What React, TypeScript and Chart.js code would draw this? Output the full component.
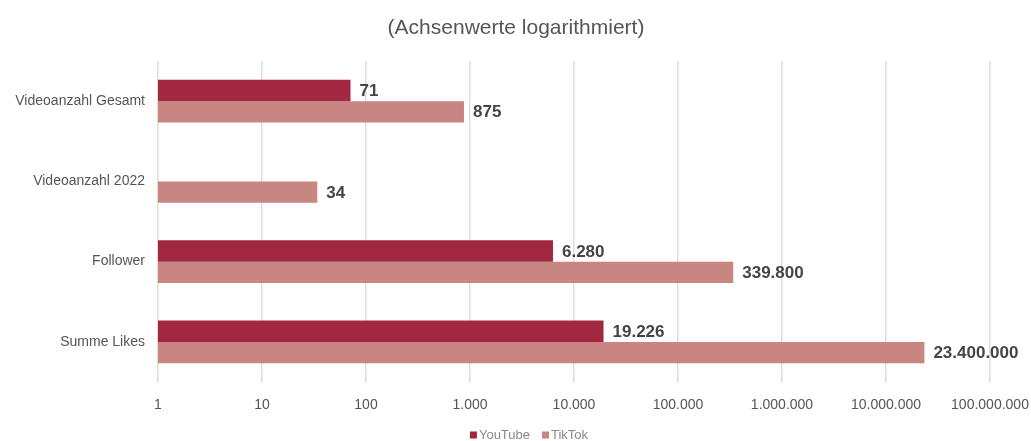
import React, { useEffect, useRef } from "react";
import { Chart, registerables } from "chart.js";

Chart.register(...registerables);

const categories = ["Videoanzahl Gesamt", "Videoanzahl 2022", "Follower", "Summe Likes"];
const seriesNames = ["YouTube", "TikTok"];
const youtubeValues: (number | null)[] = [71, null, 6280, 19226];
const tiktokValues: (number | null)[] = [875, 34, 339800, 23400000];
const tickValues = [1, 10, 100, 1000, 10000, 100000, 1000000, 10000000, 100000000];
const titleText = "(Achsenwerte logarithmiert)";
const seriesColors = ["#A22842", "#C98580"];

const fmt = (v: number) => String(Math.round(v)).replace(/\B(?=(\d{3})+(?!\d))/g, ".");

const FONT = "'Liberation Sans', Arial, Helvetica, sans-serif";

const valueLabels = {
  id: "valueLabels",
  afterDatasetsDraw(chart: any) {
    const ctx = chart.ctx;
    ctx.save();
    ctx.font = `bold 17px ${FONT}`;
    ctx.fillStyle = "#444444";
    ctx.textAlign = "left";
    ctx.textBaseline = "middle";
    chart.data.datasets.forEach((ds: any, di: number) => {
      const meta = chart.getDatasetMeta(di);
      meta.data.forEach((bar: any, i: number) => {
        const v = ds.data[i];
        if (v == null) return;
        ctx.fillText(fmt(v), bar.x + 9, bar.y + 1);
      });
    });
    ctx.restore();
  },
};

const customTitle = {
  id: "customTitle",
  afterDraw(chart: any) {
    const ctx = chart.ctx;
    ctx.save();
    ctx.font = `21px ${FONT}`;
    ctx.fillStyle = "#555555";
    ctx.textAlign = "center";
    ctx.textBaseline = "middle";
    ctx.fillText(titleText, 516, 28);
    ctx.restore();
  },
};

const customLegend = {
  id: "customLegend",
  afterDraw(chart: any) {
    const ctx = chart.ctx;
    ctx.save();
    ctx.font = `13px ${FONT}`;
    ctx.textBaseline = "middle";
    ctx.textAlign = "left";
    const box = 7;
    const gapBox = 2;
    const gapItem = 12;
    const items = chart.data.datasets.map((ds: any) => ({
      label: ds.label,
      color: ds.backgroundColor,
      w: ctx.measureText(ds.label).width,
    }));
    const total = items.reduce((s: number, it: any) => s + box + gapBox + it.w, 0) + gapItem * (items.length - 1);
    let x = 529 - total / 2;
    const y = 435;
    items.forEach((it: any) => {
      ctx.fillStyle = it.color;
      ctx.fillRect(x, y - box / 2, box, box);
      x += box + gapBox;
      ctx.fillStyle = "#8A8A8A";
      ctx.fillText(it.label, x, y);
      x += it.w + gapItem;
    });
    ctx.restore();
  },
};

export default function App() {
  const ref = useRef<HTMLCanvasElement | null>(null);
  useEffect(() => {
    document.body.style.margin = "0";
    if (!ref.current) return;
    const chart = new Chart(ref.current, {
      type: "bar",
      data: {
        labels: categories,
        datasets: [
          {
            label: seriesNames[0],
            data: youtubeValues,
            backgroundColor: seriesColors[0],
            borderWidth: 0,
            categoryPercentage: 0.53,
            barPercentage: 1,
          },
          {
            label: seriesNames[1],
            data: tiktokValues,
            backgroundColor: seriesColors[1],
            borderWidth: 0,
            categoryPercentage: 0.53,
            barPercentage: 1,
          },
        ],
      },
      options: {
        indexAxis: "y",
        animation: false,
        responsive: true,
        maintainAspectRatio: false,
        layout: { padding: { left: 0, right: 41, top: 61, bottom: 23 } },
        scales: {
          x: {
            type: "logarithmic",
            min: 1,
            max: 100000000,
            afterBuildTicks: (scale: any) => {
              scale.ticks = tickValues.map((v) => ({ value: v }));
            },
            afterFit: (scale: any) => {
              scale.height = 36;
              scale.paddingRight = 0;
              scale.paddingLeft = 0;
            },
            ticks: {
              callback: (v: any) => fmt(Number(v)),
              color: "#555555",
              font: { family: FONT, size: 14 },
              padding: 15,
              maxRotation: 0,
              autoSkip: false,
            },
            grid: { color: "#DDDDDD", lineWidth: 1.5, drawTicks: false },
            border: { display: false },
          },
          y: {
            afterFit: (scale: any) => {
              scale.width = 158;
            },
            ticks: {
              color: "#555555",
              font: { family: FONT, size: 14 },
              padding: 13,
            },
            grid: { display: false, drawTicks: false },
            border: { display: false },
          },
        },
        plugins: {
          title: { display: false },
          legend: { display: false },
          tooltip: { enabled: false },
        },
      },
      plugins: [valueLabels, customTitle, customLegend],
    } as any);
    return () => chart.destroy();
  }, []);
  return (
    <div style={{ width: 1031, height: 441, position: "relative" }}>
      <canvas ref={ref} />
    </div>
  );
}
